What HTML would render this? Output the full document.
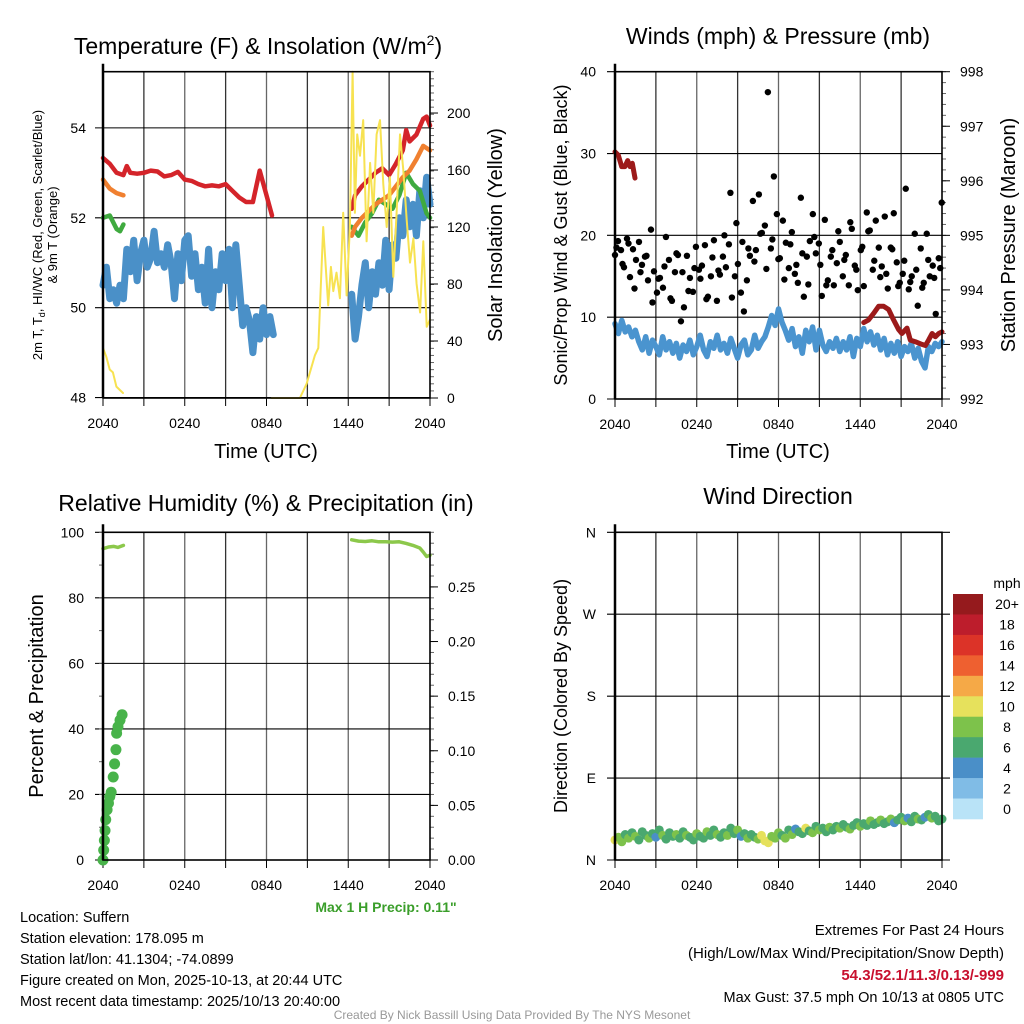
<!DOCTYPE html>
<html><head><meta charset="utf-8">
<style>
html,body{margin:0;padding:0;background:#fff;}
svg{display:block;font-family:"Liberation Sans",Arial,sans-serif;}
</style></head>
<body>
<svg id="c" width="1024" height="1024" viewBox="0 0 1024 1024" xmlns="http://www.w3.org/2000/svg">
<rect width="1024" height="1024" fill="#fff"/>
</svg>
<script>
// ---------- DATA ----------
const xTickLabels = ["2040","0240","0840","1440","2040"];
const temp2mA = [[0,53.33],[0.5,53.2],[1,53.0],[1.5,52.95],[1.75,53.15],[2,53.0],[2.5,52.98],[3,53.0],[3.5,53.05],[4,53.03],[4.5,52.92],[5,52.95],[5.5,53.02],[6,52.85],[6.5,52.82],[7,52.75],[7.5,52.7],[8,52.72],[8.5,52.7],[9,52.75],[9.5,52.6],[10,52.45],[10.5,52.35],[11,52.35],[11.5,53.05],[12,52.5],[12.4,52.05]];
const temp2mB = [[18.25,52.2],[18.5,52.5],[18.75,52.6],[19,52.7],[19.5,52.85],[20,53.0],[20.5,53.1],[21,52.95],[21.5,53.2],[22,53.5],[22.25,53.95],[22.5,53.7],[23,53.85],[23.5,54.2],[23.75,54.25],[24,54.05]];
const temp9mA = [[0,52.85],[0.5,52.65],[1,52.55],[1.5,52.5]];
const temp9mB = [[18.25,51.6],[18.5,51.8],[19,52.0],[20,52.3],[21,52.5],[22,52.9],[22.5,53.05],[23,53.3],[23.5,53.6],[24,53.5]];
const hiwcA = [[0,52.0],[0.5,52.05],[1,51.75],[1.25,51.7],[1.5,51.85]];
const hiwcB = [[18.25,51.8],[18.75,51.6],[19.25,51.9],[19.75,52.1],[20.25,52.4],[20.75,52.3],[21.25,52.2],[21.75,52.5],[22.25,53.0],[22.75,52.75],[23.25,52.6],[23.75,52.1],[24,52.0]];
const dewStartA = 0, dewStepA = 0.25;
const dewA = [50.5,50.9,50.2,50.4,50.1,50.5,50.2,51.3,50.8,51.5,50.6,51.2,51.5,50.9,51.1,51.7,51.0,51.2,50.9,51.4,51.0,50.2,51.2,50.6,51.5,51.6,50.7,51.2,50.4,50.9,50.1,51.3,50.0,50.8,50.4,51.2,50.6,51.3,50.0,51.4,50.5,49.6,50.0,49.7,49.0,49.8,49.3,50.0,49.4,49.8,49.4];
const dewStartB = 18.25, dewStepB = 0.25;
const dewB = [50.3,49.3,49.8,50.5,51.0,50.0,50.8,50.3,51.0,50.5,51.5,50.4,51.4,51.1,52.0,51.6,52.4,51.8,52.3,51.6,52.6,52.0,52.9,52.3];
const solarA = [[0,35],[0.24,29],[0.49,20],[0.73,18],[0.98,8],[1.47,3.5]];
const solarB = [[12.37,0],[14.45,0],[14.94,10],[15.55,30],[15.8,35],[16.16,120],[16.53,65],[16.73,92],[16.9,75],[17.14,88],[17.39,70],[17.63,130],[17.88,72],[18.12,120],[18.32,229],[18.49,130],[18.66,185],[18.86,170],[19.1,195],[19.35,110],[19.6,165],[19.84,130],[20.08,185],[20.33,195],[20.57,150],[20.82,120],[21.06,155],[21.31,85],[21.55,130],[21.8,185],[22.04,160],[22.29,125],[22.53,95],[22.78,112],[23.02,80],[23.27,60],[23.51,110],[23.76,50],[24,55]];
const p1LeftTicks = [48,50,52,54];
const p1RightTicks = [0,40,80,120,160,200];
const windStart = 0, windStep = 0.25;
const windSpeed = [9.2,8.0,9.6,8.2,8.8,7.6,8.4,7.0,6.0,7.6,5.6,7.2,6.4,5.4,7.6,6.0,
7.0,5.6,6.8,5.0,6.6,5.8,7.2,5.4,6.4,7.8,6.0,5.2,7.0,6.2,7.8,6.0,
6.8,5.6,7.4,6.2,5.0,6.6,7.2,5.4,6.0,7.8,6.2,7.0,7.6,8.8,10.2,9.0,
11.0,9.4,8.4,7.2,8.6,6.4,7.6,5.6,8.4,7.0,8.8,6.0,8.4,6.6,5.8,7.0,
6.2,7.4,5.8,7.0,6.0,7.6,5.2,7.4,6.4,8.6,7.0,8.2,6.6,7.8,6.0,7.4,
5.4,6.8,5.6,7.0,5.2,6.4,5.8,6.8,5.0,6.2,4.6,3.8,6.4,5.8,6.8,6.4,7.0];
const gustStart = 0, gustStep = 0.22;
const gusts = [17.6,19.3,18.2,16.1,19.6,14.9,18.3,17.0,19.2,16.4,17.4,
14.5,20.7,15.6,13.0,14.8,13.6,19.8,17.0,12.0,
15.5,17.6,9.5,11.2,17.5,14.8,13.1,18.6,15.8,
16.3,18.8,12.5,15.0,19.4,12.0,15.2,17.4,16.1,
18.9,12.4,15.0,16.5,13.0,10.7,14.5,17.5,24.2,
18.2,25.0,20.3,21.2,37.5,18.4,27.2,22.6,17.2,
21.8,19.1,16.0,20.4,15.3,14.2,24.6,12.5,17.4,
19.3,22.6,17.8,19.0,12.6,21.9,14.5,17.4,13.9,
16.6,19.2,15.0,17.6,13.9,20.8,16.3,13.3,18.2,
13.8,22.8,20.6,15.8,21.8,18.5,16.2,22.3,13.5,
18.5,22.7,16.7,14.2,15.3,25.7,13.4,15.0,20.2,
11.4,18.4,14.2,20.2,15.0,16.3,10.4,17.2,24.0];
const gust2Start = 0.11, gust2Step = 0.44;
const gusts2 = [18.5,16.5,19.0,13.5,15.5,17.5,11.8,14.7,16.2,12.3,17.8,15.5,13.2,16.0,14.7,12.2,17.3,15.7,20.0,25.2,21.5,19.2,18.4,16.8,20.2,15.9,19.5,17.1,14.6,18.9,16.4,17.8,14.0,19.8,16.4,13.9,18.2,20.5,17.0,21.6,15.8,18.6,20.5,16.9,14.9,15.3,18.3,13.8,16.9,14.3,15.8,13.6,17.0,14.8,16.0];
const pressA = [[0,996.53],[0.24,996.47],[0.49,996.26],[0.73,996.26],[0.93,996.37],[1.1,996.26],[1.27,996.32],[1.47,996.05]];
const pressB = [[18.25,993.4],[18.61,993.45],[18.98,993.57],[19.35,993.7],[19.72,993.7],[20.08,993.64],[20.45,993.45],[20.82,993.27],[21.06,993.2],[21.43,993.3],[21.67,993.08],[22.04,993.05],[22.53,993.0],[22.78,992.98],[23.02,993.08],[23.27,993.2],[23.51,993.14],[23.76,993.2],[24,993.23]];
const p2LeftTicks = [0,10,20,30,40];
const p2RightTicks = [992,993,994,995,996,997,998];
const rhA = [[0,95.0],[0.4,95.5],[0.8,95.7],[1.1,95.4],[1.5,96.0]];
const rhB = [[18.25,97.7],[18.75,97.3],[19.25,97.2],[19.75,97.4],[20.25,97.1],[20.75,97.1],[21.25,97.0],[21.75,97.1],[22.25,96.6],[22.75,96.0],[23.25,95.2],[23.5,94.0],[23.75,92.6],[24,93.0]];
const precipHours = [0,0.05,0.1,0.15,0.2,0.3,0.4,0.5,0.6,0.75,0.85,0.95,1.0,1.1,1.25,1.4];
const precipIn = [0,0.009,0.018,0.027,0.037,0.046,0.052,0.058,0.062,0.076,0.088,0.101,0.116,0.122,0.128,0.133];
const p3LeftTicks = [0,20,40,60,80,100];
const p3RightTicks = ["0.00","0.05","0.10","0.15","0.20","0.25"];
const dirStart = 0, dirStep = 0.25;
const windDir = [22,25,20,28,24,30,26,22,31,27,24,29,25,33,27,23,
30,26,28,24,31,27,25,22,29,26,24,31,27,33,28,25,
30,27,35,29,33,26,29,24,28,25,23,27,21,19,26,24,
30,27,24,33,28,34,31,29,35,32,30,37,33,35,31,36,
33,37,35,39,36,34,38,41,37,40,38,43,39,41,44,40,
42,45,41,44,47,43,46,42,48,45,44,47,50,46,48,43,45];
const dirSpeed = [10,8,9,7,8,6,8,7,6,7,8,7,5,6,8,7,
7,6,8,7,6,8,7,6,8,7,6,8,7,6,8,7,
7,8,6,7,8,5,7,8,7,6,8,10,11,10,9,8,
8,7,9,6,8,5,7,6,10,7,8,6,8,7,6,8,
7,6,8,7,6,8,7,6,8,7,6,8,7,6,8,7,
6,8,5,7,6,8,4,7,6,8,7,5,6,8,7,6,7];
const dirLabels = ["N","E","S","W","N"];
const cbLabels = ["20+","18","16","14","12","10","8","6","4","2","0"];
const cbColors = ["#951a1d","#bd1d2c","#dc3328","#ee6030","#f5a947","#e6e15c","#7dc24b","#4aa86f","#4a8fc8","#80bce6","#b9e3f7"];

// ---------- DRAW ----------
const NS="http://www.w3.org/2000/svg";
const svg=document.getElementById('c');
function mk(tag,attrs,parent){const e=document.createElementNS(NS,tag);for(const k in attrs)e.setAttribute(k,attrs[k]);(parent||svg).appendChild(e);return e;}
function txt(s,x,y,size,anchor,parent,extra){const t=mk('text',Object.assign({x:x,y:y,'font-size':size,'text-anchor':anchor||'middle',fill:'#000'},extra||{}),parent);t.textContent=s;return t;}

const P1={x0:103,x1:430,y0:71.7,y1:398,lmin:47.99,lmax:55.25,rmin:0,rmax:229};
const P2={x0:615,x1:942,y0:71.7,y1:399,lmin:0,lmax:40,rmin:992,rmax:998};
const P3={x0:103,x1:430,y0:532.3,y1:860,lmin:0,lmax:100,rmin:0,rmax:0.3};
const P4={x0:615,x1:942,y0:532.3,y1:860,lmin:0,lmax:360};
function X(p,h){return p.x0+h/24*(p.x1-p.x0);}
function YL(p,v){return p.y1-(v-p.lmin)/(p.lmax-p.lmin)*(p.y1-p.y0);}
function YR(p,v){return p.y1-(v-p.rmin)/(p.rmax-p.rmin)*(p.y1-p.y0);}

function frame(p,name,hLines){
  const g=mk('g',{});
  
  
  for(let i=1;i<8;i++){const x=X(p,i*3);mk('line',{x1:x,x2:x,y1:p.y0,y2:p.y1,stroke:i%2?'#333':'#666','stroke-width':1.3},g);}
  hLines.forEach(y=>mk('line',{x1:p.x0-8,x2:p.x1+(p===P4?8:0),y1:y,y2:y,stroke:'#000','stroke-width':1.1},g));
  for(let i=0;i<=8;i++){const x=X(p,i*3);mk('line',{x1:x,x2:x,y1:p.y1,y2:p.y1+8,stroke:'#000','stroke-width':1},g);}
  const xl=mk('g',{});
  
  
  xTickLabels.forEach((s,i)=>txt(s,X(p,i*6),p.y1+30,14,'middle',xl));
  return g;
}
function border(p,name){
  const r=mk('rect',{x:p.x0,y:p.y0,width:p.x1-p.x0,height:p.y1-p.y0,fill:'none',stroke:'#000','stroke-width':1.6});
  
  
  mk('line',{x1:p.x0,x2:p.x0,y1:p.y0-8,y2:p.y1,stroke:'#000','stroke-width':2.5});
}
function path(p,pts,yf,color,w,name){
  const d=pts.map((q,i)=>(i?'L':'M')+X(p,q[0]).toFixed(1)+','+yf(p,q[1]).toFixed(1)).join(' ');
  const e=mk('path',{d:d,fill:'none',stroke:color,'stroke-width':w,'stroke-linejoin':'round','stroke-linecap':'round'});
  
  
  return e;
}
function seq(start,step,vals){return vals.map((v,i)=>[start+i*step,v]);}
function rightMinor(p,n){for(let i=0;i<=n;i++){const y=p.y1-i*(p.y1-p.y0)/n;mk('line',{x1:p.x1,x2:p.x1+4,y1:y,y2:y,stroke:'#666','stroke-width':1});}}

// ===== Panel 1 =====
frame(P1,'temperature',p1LeftTicks.map(v=>YL(P1,v)));
rightMinor(P1,46);
p1RightTicks.forEach(v=>{const y=YR(P1,v);mk('line',{x1:P1.x1,x2:P1.x1+8,y1:y,y2:y,stroke:'#000'});});
path(P1,seq(dewStartA,dewStepA,dewA),YL,'#4a90c8',7,'dewpoint-line-a');
path(P1,seq(dewStartB,dewStepB,dewB),YL,'#4a90c8',7,'dewpoint-line-b');
path(P1,hiwcA,YL,'#3faa3f',4.5,'hiwc-line-a');
path(P1,hiwcB,YL,'#3faa3f',4.5,'hiwc-line-b');
path(P1,temp9mA,YL,'#f08030',4.5,'temp-9m-line-a');
path(P1,temp9mB,YL,'#f08030',4.5,'temp-9m-line-b');
path(P1,temp2mA,YL,'#d4242a',4.5,'temp-2m-line-a');
path(P1,temp2mB,YL,'#d4242a',4.5,'temp-2m-line-b');
path(P1,solarA,YR,'#f7e251',2,'solar-line-a');
path(P1,solarB,YR,'#f7e251',2,'solar-line-b');
border(P1,'temperature');
p1LeftTicks.forEach(v=>txt(String(v),86,YL(P1,v)+5,14,'end'));
p1RightTicks.forEach(v=>txt(String(v),447,YR(P1,v)+5,14,'start'));
{const t=txt('Temperature (F) & Insolation (W/m',258,54,23,'middle');const s=mk('tspan',{dy:-9,'font-size':14},t);s.textContent='2';const s2=mk('tspan',{dy:9},t);s2.textContent=')';
}
{const g=mk('g',{transform:'translate(42,235) rotate(-90)'});

const t=txt('2m T, T',0,0,13,'middle',g);const s=mk('tspan',{dy:3,'font-size':9},t);s.textContent='d';const s2=mk('tspan',{dy:-3},t);s2.textContent=', HI/WC (Red, Green, Scarlet/Blue)';
txt('& 9m T (Orange)',0,15,13,'middle',g);}
{const t=txt('Solar Insolation (Yellow)',0,0,20,'middle',null,{transform:'translate(502,235) rotate(-90)'});}
{const t=txt('Time (UTC)',266,458,20,'middle');}

// ===== Panel 2 =====
frame(P2,'winds',p2LeftTicks.map(v=>YL(P2,v)));
rightMinor(P2,30);
p2RightTicks.forEach(v=>{const y=YR(P2,v);mk('line',{x1:P2.x1,x2:P2.x1+8,y1:y,y2:y,stroke:'#000'});});
path(P2,seq(windStart,windStep,windSpeed),YL,'#4a94cf',5.5,'wind-speed-line');
{const g=mk('g',{});
gusts.forEach((v,i)=>{const c=mk('circle',{cx:X(P2,gustStart+i*gustStep),cy:YL(P2,v),r:3.2,fill:'#000'},g);});
gusts2.forEach((v,i)=>{const c=mk('circle',{cx:X(P2,gust2Start+i*gust2Step),cy:YL(P2,v),r:3.2,fill:'#000'},g);});}
path(P2,pressA,YR,'#9c1a1a',5,'pressure-line-a');
path(P2,pressB,YR,'#9c1a1a',5,'pressure-line-b');
border(P2,'winds');
p2LeftTicks.forEach(v=>txt(String(v),596,YL(P2,v)+5,14,'end'));
p2RightTicks.forEach(v=>txt(String(v),960,YR(P2,v)+5,14,'start'));
{const t=txt('Winds (mph) & Pressure (mb)',778,44,23,'middle');}
{const t=txt('Sonic/Prop Wind & Gust (Blue, Black)',0,0,18,'middle',null,{transform:'translate(567,235) rotate(-90)'});}
{const t=txt('Station Pressure (Maroon)',0,0,20,'middle',null,{transform:'translate(1015,235) rotate(-90)'});}
{const t=txt('Time (UTC)',778,458,20,'middle');}

// ===== Panel 3 =====
frame(P3,'humidity',p3LeftTicks.map(v=>YL(P3,v)));
rightMinor(P3,30);
p3RightTicks.forEach(s=>{const y=YR(P3,parseFloat(s));mk('line',{x1:P3.x1,x2:P3.x1+8,y1:y,y2:y,stroke:'#000'});});
for(let i=0;i<=10;i++){const y=P3.y1-i*(P3.y1-P3.y0)/10;mk('line',{x1:P3.x0-4,x2:P3.x0,y1:y,y2:y,stroke:'#666'});}
path(P3,rhA,YL,'#8cc84b',3.5,'rh-line-a');
path(P3,rhB,YL,'#8cc84b',3.5,'rh-line-b');
{const g=mk('g',{});
precipIn.forEach((v,i)=>{const c=mk('circle',{cx:X(P3,precipHours[i]),cy:YR(P3,v),r:5.5,fill:'#48b34a'},g);});}
border(P3,'humidity');
p3LeftTicks.forEach(v=>txt(String(v),84,YL(P3,v)+5,14,'end'));
p3RightTicks.forEach(s=>txt(s,448,YR(P3,parseFloat(s))+5,14,'start'));
{const t=txt('Relative Humidity (%) & Precipitation (in)',266,511,23,'middle');}
{const t=txt('Percent & Precipitation',0,0,20,'middle',null,{transform:'translate(43,696) rotate(-90)'});}
{const t=txt('Max 1 H Precip: 0.11"',386,912,14,'middle',null,{'font-weight':'bold'});t.setAttribute('fill','#3a9e2a');}

// ===== Panel 4 =====
frame(P4,'wind-direction',[0,90,180,270,360].map(v=>YL(P4,v)));
{const g=mk('g',{});
windDir.forEach((d,i)=>{const v=dirSpeed[i];let b=Math.min(10,Math.floor(v/2));const col=cbColors[10-b];
const c=mk('circle',{cx:X(P4,dirStart+i*dirStep),cy:YL(P4,d),r:4.5,fill:col},g);});}
border(P4,'wind-direction');
dirLabels.forEach((s,i)=>txt(s,596,YL(P4,i*90)+5,14,'end'));
{const t=txt('Wind Direction',778,504,23,'middle');}
{const t=txt('Direction (Colored By Speed)',0,0,18,'middle',null,{transform:'translate(567,696) rotate(-90)'});}
{const g=mk('g',{});
const bh=(819-594)/11;
cbColors.forEach((c,i)=>{mk('rect',{x:953,y:594+i*bh,width:30,height:bh+0.3,fill:c},g);txt(cbLabels[i],1007,594+i*bh+bh/2+5,14,'middle',g);});
txt('mph',1007,588,14,'middle',g);}

// ===== Footer text =====
{const g=mk('g',{});
["Location: Suffern","Station elevation: 178.095 m","Station lat/lon: 41.1304; -74.0899","Figure created on Mon, 2025-10-13, at 20:44 UTC","Most recent data timestamp: 2025/10/13 20:40:00"].forEach((s,i)=>txt(s,20,922+i*21,14.5,'start',g));}
{const g=mk('g',{});
txt('Extremes For Past 24 Hours',1004,935,15,'end',g);
txt('(High/Low/Max Wind/Precipitation/Snow Depth)',1004,958,15,'end',g);
const r=txt('54.3/52.1/11.3/0.13/-999',1004,980,15,'end',g);r.setAttribute('fill','#c8102e');r.setAttribute('font-weight','bold');
txt('Max Gust: 37.5 mph On 10/13 at 0805 UTC',1004,1002,14.5,'end',g);}
{const t=txt('Created By Nick Bassill Using Data Provided By The NYS Mesonet',512,1019,12,'middle');t.setAttribute('fill','#999');}
</script>
</body></html>
